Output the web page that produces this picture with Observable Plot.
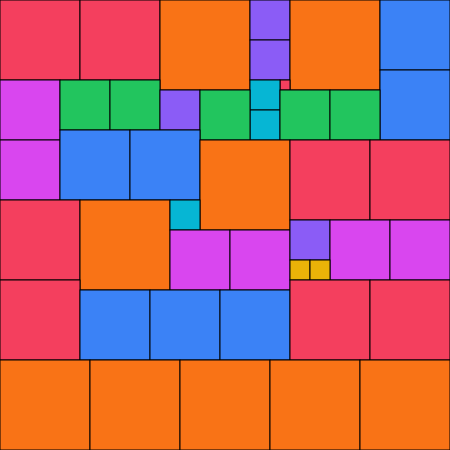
<!DOCTYPE html>
<html>
<head>
<meta charset="utf-8">
<script src="https://cdn.jsdelivr.net/npm/d3@7"></script>
<script src="https://cdn.jsdelivr.net/npm/@observablehq/plot@0.6"></script>
<style>
  html, body { margin: 0; padding: 0; background: #fff; }
  #chart svg { display: block; }
</style>
</head>
<body>
<div id="chart"></div>
<script>
// Square packing: left edge, top edge, side length
const xs = [0, 80, 160, 250, 250, 290, 380, 380, 280, 250, 250, 0, 60, 110, 160, 200, 280, 330,
            0, 60, 130, 200, 290, 370, 0, 80, 170, 170, 230, 290, 330, 390, 290, 310,
            0, 80, 150, 220, 290, 370, 0, 90, 180, 270, 360];
const ys = [0, 0, 0, 0, 40, 0, 0, 70, 80, 80, 110, 80, 80, 80, 90, 90, 90, 90,
            140, 130, 130, 140, 140, 140, 200, 200, 200, 230, 230, 220, 220, 220, 260, 260,
            280, 290, 290, 290, 280, 280, 360, 360, 360, 360, 360];
const sizes = [80, 80, 90, 40, 40, 90, 70, 70, 10, 30, 30, 60, 50, 50, 40, 50, 50, 50,
               60, 70, 70, 90, 80, 80, 80, 90, 30, 60, 60, 40, 60, 60, 20, 20,
               80, 70, 70, 70, 80, 80, 90, 90, 90, 90, 90];
const sizeDomain = [10, 20, 30, 40, 50, 60, 70, 80, 90];
const sizeColors = ["#f43f5e", "#eab308", "#06b6d4", "#8b5cf6", "#22c55e", "#d946ef", "#3b82f6", "#f43f5e", "#f97316"];

const squares = xs.map((x, i) => ({x, y: ys[i], s: sizes[i]}));

const chart = Plot.plot({
  width: 450,
  height: 450,
  margin: 0,
  x: {domain: [0, 450], range: [0, 450], axis: null},
  y: {domain: [0, 450], range: [0, 450], axis: null},
  color: {type: "ordinal", domain: sizeDomain, range: sizeColors},
  marks: [
    Plot.rect(squares, {
      x1: "x",
      x2: d => d.x + d.s,
      y1: "y",
      y2: d => d.y + d.s,
      fill: "s",
      stroke: "black",
      strokeWidth: 1,
      inset: 0
    })
  ]
});
document.getElementById("chart").appendChild(chart);
</script>
</body>
</html>
